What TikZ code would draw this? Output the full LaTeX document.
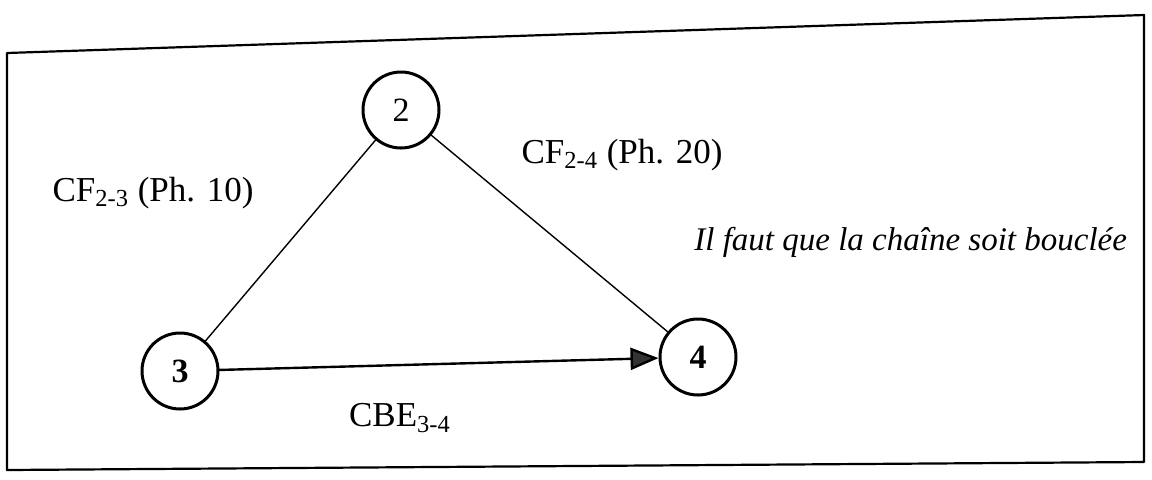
\documentclass[tikz,border=0pt]{standalone}
\usepackage{fontspec}
\setmainfont{Liberation Serif}
\usetikzlibrary{arrows.meta}
\begin{document}
\begin{tikzpicture}[x=0.5pt,y=-0.5pt,line join=round,line cap=round,
    font=\fontsize{17.5}{20}\selectfont,
    etape/.style={circle,draw,line width=1.5pt,minimum size=38pt,inner sep=0pt,font=\fontsize{17}{20}\selectfont},
    lien/.style={line width=0.7pt},
    fleche/.style={line width=1.2pt,-{Triangle[length=14pt,width=11pt,fill=black!80]}}]

  \useasboundingbox (0,0) rectangle (1152,479);

  % ---- cadre ---------------------------------------------------------------
  \draw[line width=1.1pt] (7,53) -- (1144,15) -- (1144,462) -- (7,470) -- cycle;

  % ---- les etapes ------------------------------------------------------------
  \node[etape] (e2) at (401,110) {2};
  \node[etape] (e3) at (180,371) {\textbf{3}};
  \node[etape] (e4) at (698,357) {\textbf{4}};

  % ---- les liaisons ----------------------------------------------------------
  \draw[lien] (e2) -- (e3);
  \draw[lien] (e2) -- (e4);
  \draw[fleche] (e3) -- (e4);

  % ---- les textes ------------------------------------------------------------
  \node (cf23) at (153,193) {CF\textsubscript{2-3} (Ph. 10)};
  \node (cf24) at (622,155) {CF\textsubscript{2-4} (Ph. 20)};
  \node (cbe34) at (400,418) {CBE\textsubscript{3-4}};
  \node[anchor=base east,font=\fontsize{16.5}{20}\selectfont\itshape] (boucle) at (1134,250)
    {Il faut que la chaîne soit bouclée};

\end{tikzpicture}
\end{document}
